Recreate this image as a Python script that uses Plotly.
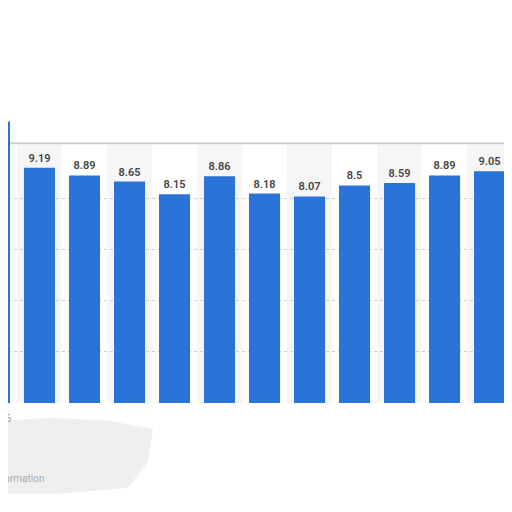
import plotly.graph_objects as go

# values (first bar is cut off at the left edge)
years = list(range(2006, 2018))
values = [11.0, 9.19, 8.89, 8.65, 8.15, 8.86, 8.18, 8.07, 8.5, 8.59, 8.89, 9.05]
labels = ["", "9.19", "8.89", "8.65", "8.15", "8.86", "8.18", "8.07", "8.5", "8.59", "8.89", "9.05"]
grid_vals = [0, 2, 4, 6, 8]

BAR = "#2a73d8"
W, H = 512, 512
# the page puts the figure 8px in from the top-left corner
ML, MR, MT, MB = 0, 12, 102, 117
plot_w = W - ML - MR
plot_h = H - MT - MB
px_per_unit = 25.6
y_top = plot_h / px_per_unit

fig = go.Figure()

# light bands behind every other column
for i, yr in enumerate(years):
    if i % 2 == 1:
        fig.add_shape(type="rect", xref="x", yref="y",
                      x0=yr - 0.5, x1=yr + 0.5, y0=0, y1=10.15,
                      fillcolor="#f6f6f6", line_width=0, layer="below")

fig.add_trace(go.Bar(
    x=years,
    y=values,
    text=labels,
    textposition="outside",
    textfont=dict(family="Roboto, Arial", size=11, color="#444444", weight=600),
    marker=dict(color=BAR, line_width=0),
    cliponaxis=False,
    hoverinfo="skip",
))

# chart frame: top edge, right edge, bottom axis line
fig.add_shape(type="line", xref="paper", yref="y", x0=2 / plot_w, x1=1,
              y0=10.15, y1=10.15, line=dict(color="#cfcfcf", width=2))
fig.add_shape(type="line", xref="paper", yref="y", x0=1, x1=1,
              y0=-0.1, y1=10.15, line=dict(color="#d4d4d4", width=2))
fig.add_shape(type="line", xref="paper", yref="y", x0=0, x1=1,
              y0=-0.05, y1=-0.05, line=dict(color="#9a9a9a", width=2))

# grey smudge under the chart
fig.add_shape(type="path", xref="paper", yref="paper",
              path="M 0,-0.06 L 0.08,-0.05 L 0.2,-0.06 L 0.29,-0.09 L 0.28,-0.2 "
                   "L 0.24,-0.29 L 0.1,-0.31 L 0,-0.31 Z",
              fillcolor="#efefef", line_width=0, layer="below")

fig.add_annotation(text="2006", xref="paper", yref="paper",
                   x=6 / plot_w, y=-23 / plot_h, xanchor="right", showarrow=False,
                   font=dict(family="Roboto, Arial", size=10, color="#999999"))
fig.add_annotation(text="Additional Information", xref="paper", yref="paper",
                   x=38 / plot_w, y=-83 / plot_h, xanchor="right", showarrow=False,
                   font=dict(family="Roboto, Arial", size=10, color="#aaaaaa"))

fig.update_layout(
    width=W, height=H,
    margin=dict(l=ML, r=MR, t=MT, b=MB),
    paper_bgcolor="white",
    plot_bgcolor="white",
    showlegend=False,
    bargap=0.31,
    xaxis=dict(range=[years[0] + 0.3, years[0] + 11.41],
               showticklabels=False, showgrid=False, zeroline=False, ticks=""),
    yaxis=dict(range=[0, y_top], tickvals=grid_vals, showticklabels=False,
               gridcolor="#cccccc", griddash="dot", gridwidth=1, zeroline=False),
)

fig.write_html("out.html")
